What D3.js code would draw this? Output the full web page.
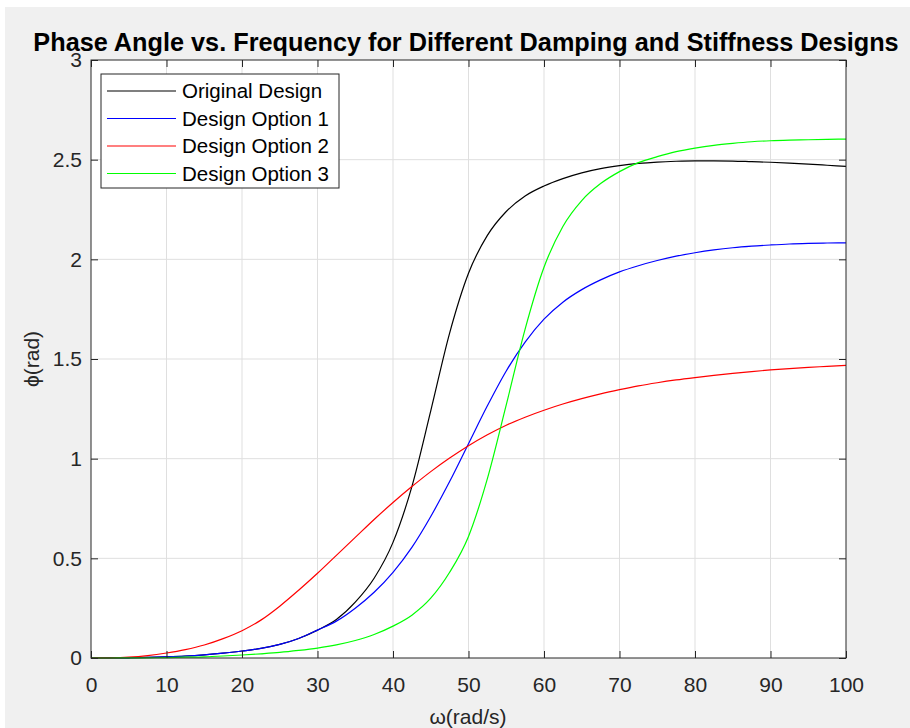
<!DOCTYPE html>
<html>
<head>
<meta charset="utf-8">
<script src="https://cdn.jsdelivr.net/npm/d3@7"></script>
<style>
body { margin: 0; background: #fff; }
text { font-family: "Liberation Sans", Arial, Helvetica, sans-serif; }
</style>
</head>
<body>
<svg id="chart" width="910" height="728"></svg>
<script>
// frequency samples (rad/s)
var omega = [0, 2.5, 5, 7.5, 10, 12.5, 15, 17.5, 20, 22.5, 25, 27.5, 30, 32.5, 35, 37.5, 40, 42.5, 45, 47.5,
	50, 52.5, 55, 57.5, 60, 62.5, 65, 67.5, 70, 72.5, 75, 77.5, 80, 82.5, 85, 87.5, 90, 92.5, 95, 97.5, 100];

// phase angle (rad)
var originalDesign = [0, 0.0003, 0.001, 0.003, 0.006, 0.01, 0.016, 0.024, 0.035, 0.048, 0.068, 0.098, 0.14, 0.193, 0.28, 0.4, 0.58, 0.86, 1.24, 1.63,
	1.93, 2.12, 2.24, 2.318, 2.368, 2.405, 2.434, 2.455, 2.47, 2.481, 2.488, 2.492, 2.494, 2.494, 2.493, 2.49, 2.487, 2.483, 2.478, 2.472, 2.466];
var designOption1 = [0, 0.0003, 0.001, 0.003, 0.006, 0.01, 0.016, 0.024, 0.035, 0.048, 0.068, 0.098, 0.14, 0.185, 0.25, 0.33, 0.43, 0.555, 0.71, 0.885,
	1.075, 1.265, 1.44, 1.585, 1.7, 1.785, 1.848, 1.897, 1.937, 1.968, 1.994, 2.016, 2.033, 2.047, 2.058, 2.066, 2.072, 2.077, 2.08, 2.082, 2.083];
var designOption2 = [0, 0.0008, 0.004, 0.012, 0.025, 0.042, 0.065, 0.097, 0.137, 0.19, 0.26, 0.34, 0.425, 0.515, 0.605, 0.695, 0.78, 0.86, 0.935, 1.003,
	1.065, 1.12, 1.168, 1.208, 1.243, 1.274, 1.301, 1.325, 1.346, 1.365, 1.381, 1.395, 1.407, 1.418, 1.428, 1.437, 1.445, 1.452, 1.458, 1.463, 1.468];
var designOption3 = [0, 0, 0.0005, 0.001, 0.002, 0.004, 0.006, 0.01, 0.015, 0.021, 0.028, 0.038, 0.05, 0.066, 0.088, 0.118, 0.16, 0.215, 0.3, 0.43,
	0.61, 0.9, 1.27, 1.65, 1.96, 2.165, 2.295, 2.38, 2.44, 2.485, 2.515, 2.54, 2.558, 2.572, 2.582, 2.59, 2.595, 2.598, 2.6, 2.602, 2.603];

var seriesNames = ["Original Design", "Design Option 1", "Design Option 2", "Design Option 3"];
var seriesColors = ["#000000", "#0000ff", "#ff0000", "#00ff00"];
var seriesValues = [originalDesign, designOption1, designOption2, designOption3];

var xTicks = [0, 10, 20, 30, 40, 50, 60, 70, 80, 90, 100];
var yTicks = [0, 0.5, 1, 1.5, 2, 2.5, 3];

var titleText = "Phase Angle vs. Frequency for Different Damping and Stiffness Designs";
var xLabel = "\u03c9(rad/s)";
var yLabel = "\u03d5(rad)";

var axisColor = "#262626";
var gridColor = "#dfdfdf";

var svg = d3.select("#chart");
var plot = {left: 91, right: 846, top: 60, bottom: 658};

// figure background
svg.append("rect")
	.attr("x", 5).attr("y", 7)
	.attr("width", 905).attr("height", 721)
	.attr("fill", "#f0f0f0");

var x = d3.scaleLinear().domain([0, 100]).range([plot.left, plot.right]);
var y = d3.scaleLinear().domain([0, 3]).range([plot.bottom, plot.top]);

svg.append("rect")
	.attr("x", plot.left).attr("y", plot.top)
	.attr("width", plot.right - plot.left).attr("height", plot.bottom - plot.top)
	.attr("fill", "#fff");

// grid
var grid = svg.append("g");
grid.selectAll(".vg")
	.data(xTicks.slice(1, -1))
	.enter().append("line")
	.attr("x1", function(d) { return x(d); }).attr("x2", function(d) { return x(d); })
	.attr("y1", plot.top).attr("y2", plot.bottom)
	.attr("stroke", gridColor).attr("stroke-width", 1);
grid.selectAll(".hg")
	.data(yTicks.slice(1, -1))
	.enter().append("line")
	.attr("y1", function(d) { return y(d); }).attr("y2", function(d) { return y(d); })
	.attr("x1", plot.left).attr("x2", plot.right)
	.attr("stroke", gridColor).attr("stroke-width", 1);

// curves
var line = d3.line()
	.x(function(d) { return x(d[0]); })
	.y(function(d) { return y(d[1]); })
	.curve(d3.curveMonotoneX);

seriesValues.forEach(function(vals, i) {
	svg.append("path")
		.datum(omega.map(function(w, j) { return [w, vals[j]]; }))
		.attr("d", line)
		.attr("fill", "none")
		.attr("stroke", seriesColors[i])
		.attr("stroke-width", 1.2);
});

// axes (ticks point inward, box on all sides)
function styleAxis(g) {
	g.select(".domain").remove();
	g.selectAll(".tick line").attr("stroke", axisColor);
	g.selectAll(".tick text").attr("fill", axisColor).attr("font-size", 21);
}

svg.append("g")
	.attr("transform", "translate(0," + plot.bottom + ")")
	.call(d3.axisBottom(x).tickValues(xTicks).tickSizeInner(-7).tickSizeOuter(0).tickPadding(19).tickFormat(d3.format("d")))
	.call(styleAxis);
svg.append("g")
	.attr("transform", "translate(" + plot.left + ",0)")
	.call(d3.axisLeft(y).tickValues(yTicks).tickSizeInner(-7).tickSizeOuter(0).tickPadding(9).tickFormat(function(d) { return String(d); }))
	.call(styleAxis);
svg.append("g")
	.attr("transform", "translate(0," + plot.top + ")")
	.call(d3.axisTop(x).tickValues(xTicks).tickSizeInner(-7).tickSizeOuter(0).tickFormat(""))
	.call(styleAxis);
svg.append("g")
	.attr("transform", "translate(" + plot.right + ",0)")
	.call(d3.axisRight(y).tickValues(yTicks).tickSizeInner(-7).tickSizeOuter(0).tickFormat(""))
	.call(styleAxis);

svg.append("rect")
	.attr("x", plot.left).attr("y", plot.top)
	.attr("width", plot.right - plot.left).attr("height", plot.bottom - plot.top)
	.attr("fill", "none")
	.attr("stroke", axisColor)
	.attr("stroke-width", 1);

// labels
var title = svg.append("text")
	.attr("x", 466).attr("y", 51)
	.attr("text-anchor", "middle")
	.attr("font-weight", "bold")
	.attr("font-size", 21)
	.attr("fill", "#000")
	.text(titleText);
var tw = title.node().getComputedTextLength();
title.attr("font-size", 21 * 866 / tw);

svg.append("text")
	.attr("x", 468).attr("y", 724)
	.attr("text-anchor", "middle")
	.attr("font-size", 21)
	.attr("fill", axisColor)
	.text(xLabel);

svg.append("text")
	.attr("transform", "translate(39,359) rotate(-90)")
	.attr("text-anchor", "middle")
	.attr("font-size", 21)
	.attr("fill", axisColor)
	.text(yLabel);

// legend
var legend = svg.append("g");
legend.append("rect")
	.attr("x", 101).attr("y", 74)
	.attr("width", 238).attr("height", 114)
	.attr("fill", "#fff")
	.attr("stroke", axisColor)
	.attr("stroke-width", 1);

var rows = legend.selectAll(".row")
	.data(seriesNames)
	.enter().append("g")
	.attr("transform", function(d, i) { return "translate(0," + (91 + i * 27.5) + ")"; });
rows.append("line")
	.attr("x1", 107).attr("x2", 176)
	.attr("y1", 0).attr("y2", 0)
	.attr("stroke", function(d, i) { return seriesColors[i]; })
	.attr("stroke-width", 1.2);
rows.append("text")
	.attr("x", 182).attr("y", 0)
	.attr("dy", "0.35em")
	.attr("font-size", 20.5)
	.attr("fill", "#000")
	.text(function(d) { return d; });
</script>
</body>
</html>
